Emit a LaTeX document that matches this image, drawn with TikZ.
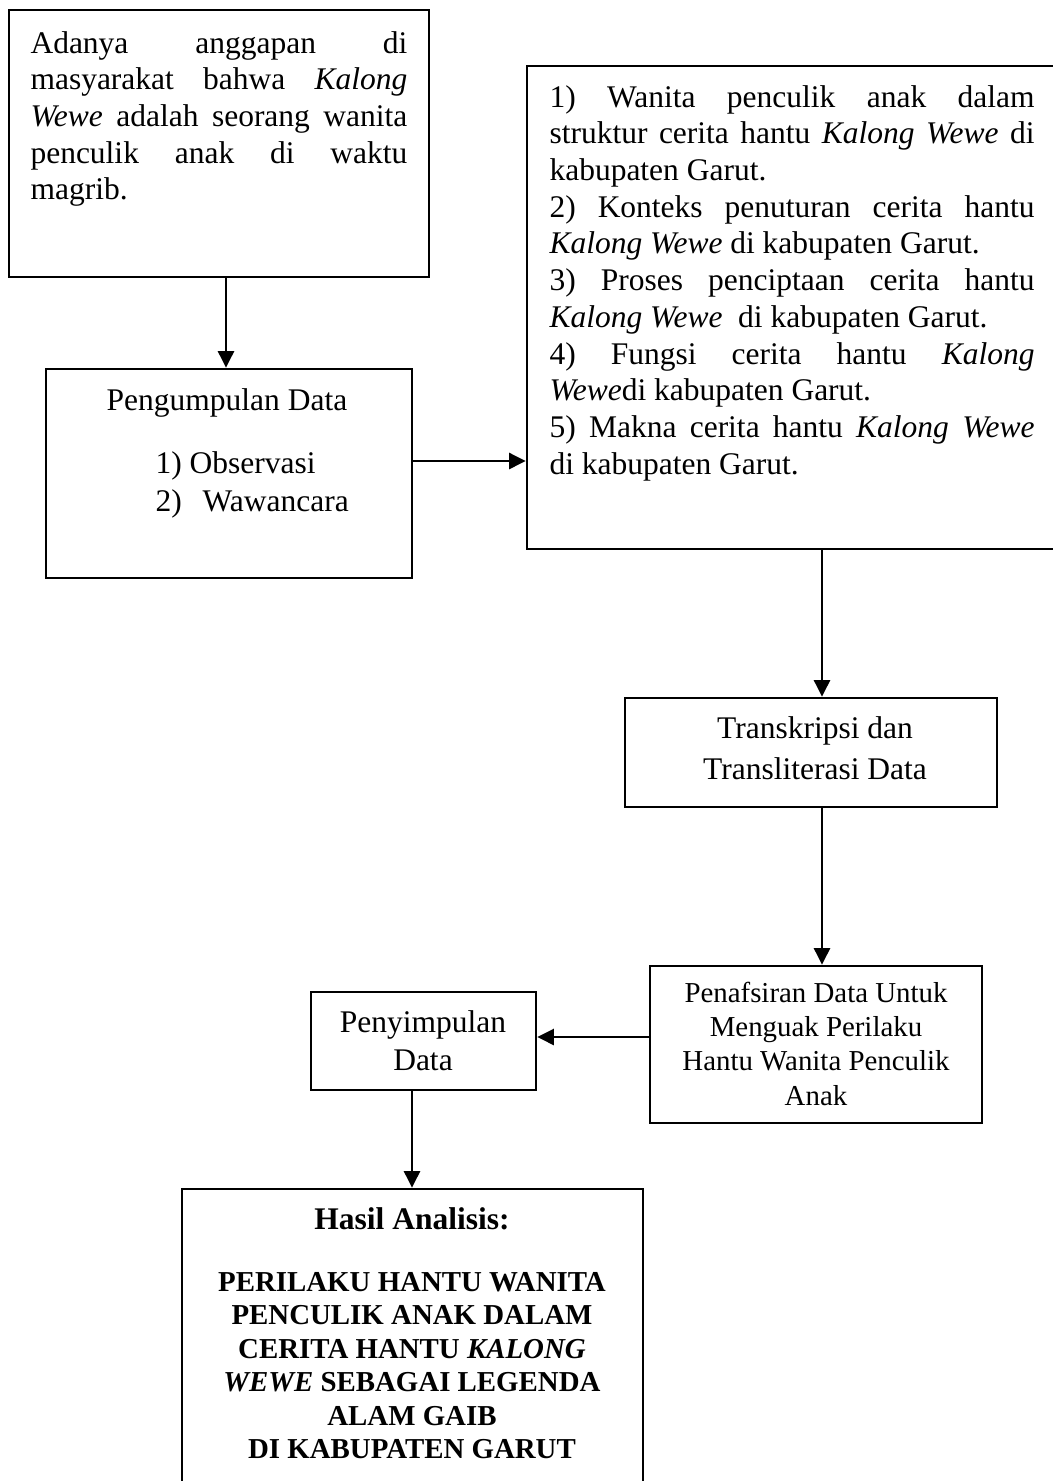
\documentclass[tikz,border=0pt]{standalone}
\usepackage{fontspec}
\setmainfont{Liberation Serif}
\usetikzlibrary{arrows.meta,fit}
\newcommand\tblk[2]{\begin{minipage}[t]{#1}\hyphenpenalty=10000 \exhyphenpenalty=10000 #2\end{minipage}}
\begin{document}
\begin{tikzpicture}[x=0.381pt,y=-0.381pt,
  boxe/.style={draw,line width=0.95pt,inner sep=0pt},
  arr/.style={line width=1.1pt,-{Triangle[length=6.3pt,width=6pt]}},
  txt/.style={inner sep=0pt,anchor=base west},
  ctxt/.style={inner sep=0pt,anchor=base}]
\useasboundingbox (0,0) rectangle (1053,1481);
% boxes
\node[boxe,fit={(9,10)(429,277)}] (b1) {};
\node[boxe,fit={(46,369)(412,578)}] (b2) {};
\node[boxe,fit={(527,66)(1060,549)}] (b3) {};
\node[boxe,fit={(625,698)(997,807)}] (b4) {};
\node[boxe,fit={(650,966)(982,1123)}] (b5) {};
\node[boxe,fit={(311,992)(536,1090)}] (b6) {};
\node[boxe,fit={(182,1189)(643,1495)}] (b7) {};
% texts
\node[txt] (t1) at (30,53) {\tblk{143.6pt}{\fontsize{12}{14}\selectfont Adanya anggapan di\linebreak masyarakat bahwa \textit{Kalong}\linebreak \textit{Wewe} adalah seorang wanita\linebreak penculik anak di waktu\linebreak magrib.}};
\node[txt] (t3) at (549,107) {\tblk{184.8pt}{\fontsize{12}{14}\selectfont 1) Wanita penculik anak dalam\linebreak struktur cerita hantu \textit{Kalong Wewe} di\linebreak kabupaten Garut.\\
2) Konteks penuturan cerita hantu\linebreak \textit{Kalong Wewe} di kabupaten Garut.\\
3) Proses penciptaan cerita hantu\linebreak \textit{Kalong Wewe}\ \ di kabupaten Garut.\\
4) Fungsi cerita hantu \textit{Kalong}\linebreak \textit{Wewe}di kabupaten Garut.\\
5) Makna cerita hantu \textit{Kalong Wewe}\linebreak di kabupaten Garut.}};
\node[ctxt] (t2a) at (227,410) {\fontsize{12}{14}\selectfont Pengumpulan Data};
\node[txt] (t2b) at (155,473) {\tblk{200pt}{\fontsize{12}{14.5}\selectfont 1)~Observasi\\2)\hspace{8pt}Wawancara}};
\node[ctxt] (t4) at (815,738) {\tblk{150pt}{\centering\fontsize{12}{15.8}\selectfont Transkripsi dan\\Transliterasi Data}};
\node[ctxt] (t5) at (816,1002) {\tblk{130pt}{\centering\fontsize{11}{13.1}\selectfont Penafsiran Data Untuk\\Menguak Perilaku\\Hantu Wanita Penculik\\Anak}};
\node[ctxt] (t6) at (423,1032) {\tblk{80pt}{\centering\fontsize{12}{14.5}\selectfont Penyimpulan\\Data}};
\node[ctxt] (t7a) at (412,1229) {\fontsize{12}{14}\selectfont\bfseries Hasil Analisis:};
\node[ctxt] (t7b) at (412,1291) {\tblk{170pt}{\centering\fontsize{11}{12.8}\selectfont\bfseries PERILAKU HANTU WANITA\\PENCULIK ANAK DALAM\\CERITA HANTU \textit{KALONG}\\\textit{WEWE} SEBAGAI LEGENDA\\ALAM GAIB\\DI KABUPATEN GARUT}};
% connector guides
\coordinate (v1) at (226,0);
\coordinate (h2) at (0,461);
\coordinate (v3) at (822,0);
\coordinate (h5) at (0,1037);
\coordinate (v6) at (412,0);
\draw[arr] (b1.south -| v1) -- (b2.north -| v1);
\draw[arr] (b2.east |- h2) -- (b3.west |- h2);
\draw[arr] (b3.south -| v3) -- (b4.north -| v3);
\draw[arr] (b4.south -| v3) -- (b5.north -| v3);
\draw[arr] (b5.west |- h5) -- (b6.east |- h5);
\draw[arr] (b6.south -| v6) -- (b7.north -| v6);
\end{tikzpicture}
\end{document}
